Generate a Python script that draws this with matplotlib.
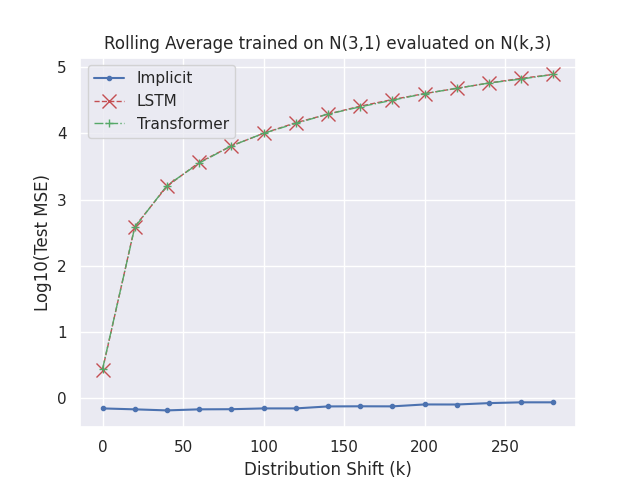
import numpy as np
import matplotlib
matplotlib.use("Agg")
import matplotlib.pyplot as plt
import seaborn as sns

sns.set_theme()

shift = [0, 20, 40, 60, 80, 100, 120, 140, 160, 180, 200, 220, 240, 260, 280]
implicit = [-0.156, -0.17, -0.186, -0.17, -0.168, -0.156, -0.156, -0.126, -0.124, -0.125,
            -0.096, -0.097, -0.076, -0.064, -0.064]
lstm = [0.43, 2.59, 3.20, 3.56, 3.81, 4.00, 4.16, 4.29, 4.41, 4.51, 4.60, 4.68, 4.76, 4.83, 4.89]
transformer = [0.44, 2.58, 3.21, 3.55, 3.81, 4.00, 4.15, 4.29, 4.40, 4.50, 4.60, 4.68, 4.76, 4.82, 4.89]

fig, ax = plt.subplots(figsize=(6.4, 4.8), dpi=100)
ax.plot(shift, implicit, "b.-", label="Implicit")
ax.plot(shift, lstm, "rx--", markersize=10, linewidth=1, label="LSTM")
ax.plot(shift, transformer, "g+-.", linewidth=1, label="Transformer")

ax.set_title("Rolling Average trained on N(3,1) evaluated on N(k,3)")
ax.set_xlabel("Distribution Shift (k)")
ax.set_ylabel("Log10(Test MSE)")
ax.legend(loc="upper left")

fig.savefig("out.png")
